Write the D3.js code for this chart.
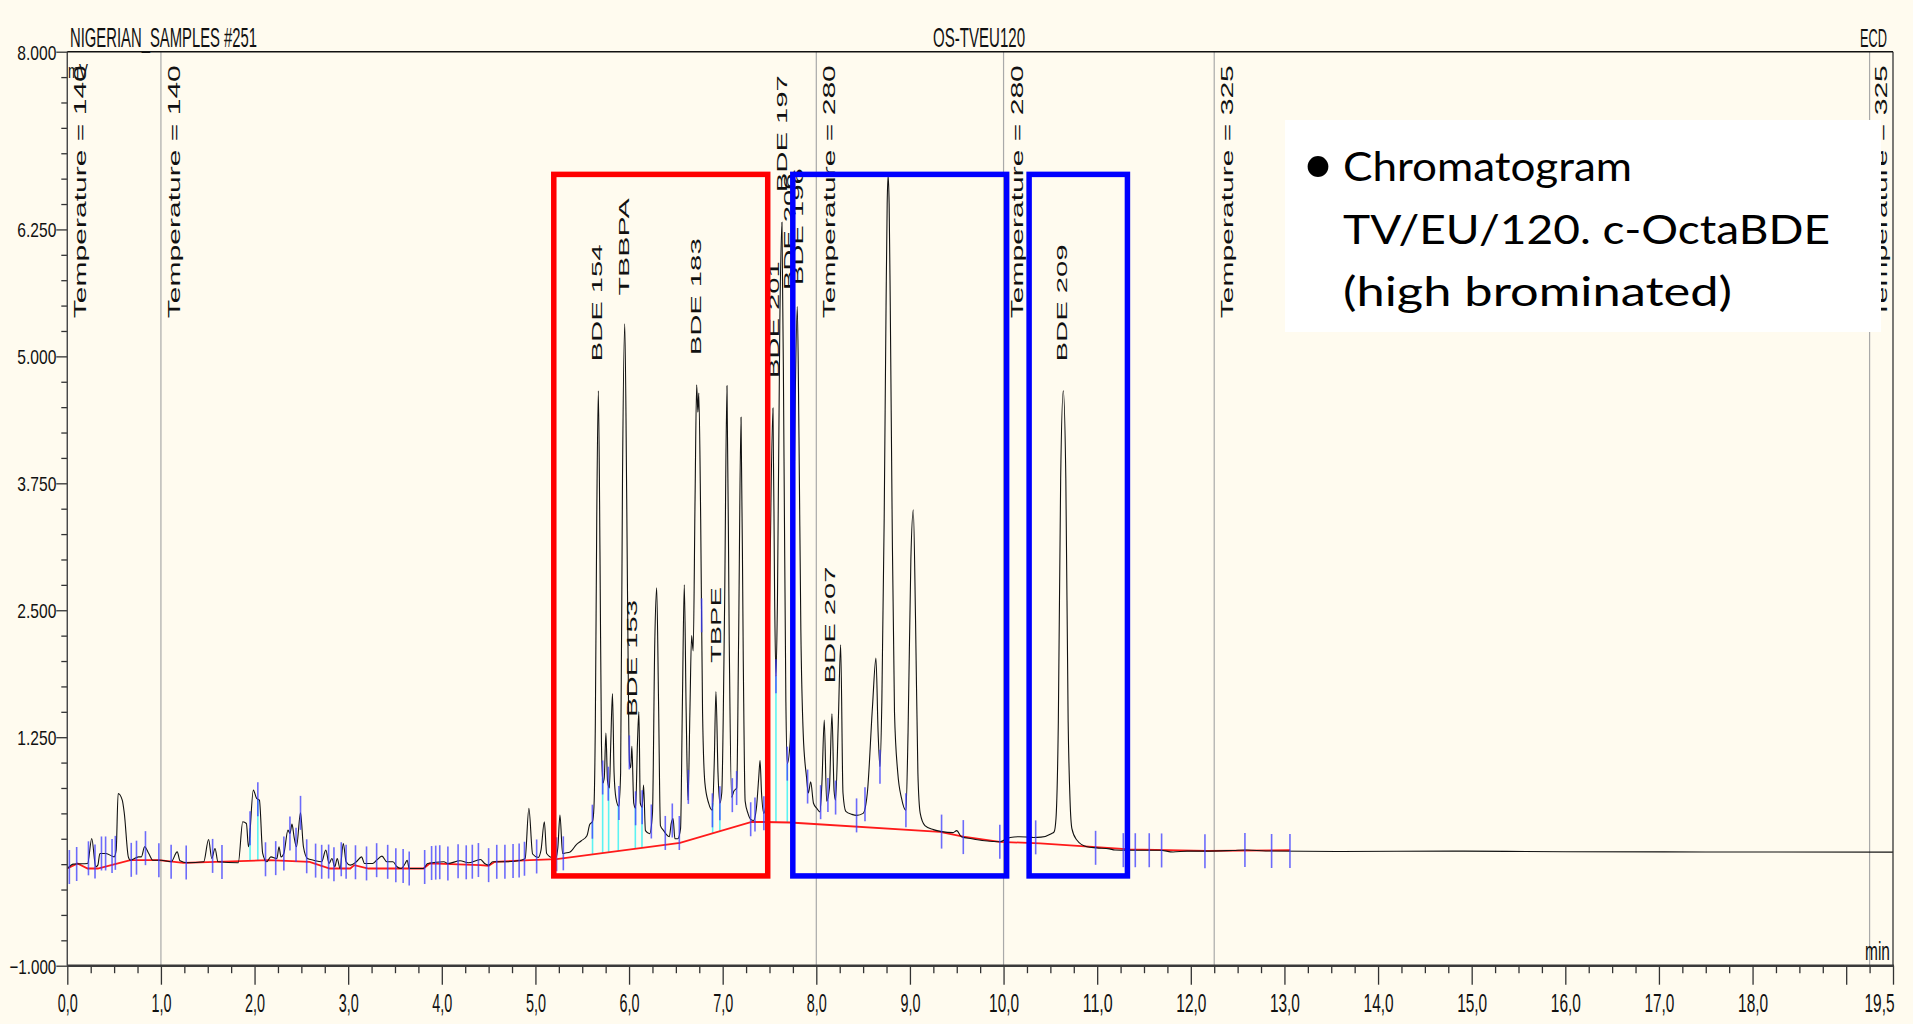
<!DOCTYPE html>
<html><head><meta charset="utf-8">
<script src="https://cdn.jsdelivr.net/npm/d3@7"></script>
<style>
html,body{margin:0;padding:0;background:#fffbef;}
svg{display:block;}
</style></head><body>
<svg id="c" width="1913" height="1024"></svg>
<script>
// ---------------- DATA ----------------
const trace = [
[0.000,-0.043],[0.065,0.0],[0.217,0.007],[0.261,0.253],[0.304,-0.026],[0.326,-0.01],[0.348,0.105],[0.413,0.105],[0.5,0.072],[0.522,0.138],[0.543,0.696],[0.587,0.63],[0.609,0.499],[0.652,0.072],[0.674,0.039],[0.761,0.072],[0.791,0.072],[0.826,0.171],[0.87,0.105],[0.913,0.039],[1.0,0.039],[1.109,0.023],[1.174,0.121],[1.204,0.033],[1.283,0.013],[1.457,0.023],[1.509,0.243],[1.543,0.056],[1.578,0.154],[1.609,0.023],[1.826,0.013],[1.874,0.417],[1.913,0.4],[1.935,0.171],[1.987,0.729],[2.022,0.647],[2.052,0.63],[2.087,0.105],[2.13,0.023],[2.174,0.072],[2.239,0.056],[2.261,0.171],[2.283,0.072],[2.313,0.105],[2.357,0.335],[2.378,0.302],[2.4,0.394],[2.422,0.269],[2.448,0.171],[2.491,0.505],[2.522,0.171],[2.565,0.056],[2.63,0.039],[2.717,0.023],[2.761,0.138],[2.796,0.007],[2.826,0.056],[2.857,-0.026],[2.883,0.056],[2.913,-0.043],[2.948,0.203],[2.978,0.023],[3.022,-0.01],[3.087,0.023],[3.143,0.072],[3.174,0.007],[3.261,0.007],[3.304,0.039],[3.361,0.079],[3.413,0.023],[3.478,0.023],[3.522,-0.026],[3.565,-0.043],[3.609,0.007],[3.63,0.039],[3.652,-0.043],[3.804,-0.043],[3.848,0.007],[4.022,0.023],[4.065,0.007],[4.196,0.033],[4.283,0.013],[4.413,0.046],[4.457,0.007],[4.5,-0.01],[4.543,0.023],[4.674,0.023],[4.848,0.039],[4.89,0.056],
[4.93,0.55],[4.97,0.10],[5.03,0.066],[5.06,0.14],[5.095,0.417],[5.12,0.105],[5.18,0.066],[5.22,0.066],[5.24,0.17],[5.262,0.483],[5.29,0.105],[5.32,0.11],[5.37,0.12],[5.44,0.195],[5.49,0.23],[5.55,0.28],[5.58,0.39],[5.61,0.42],[5.625,0.56],[5.64,1.4],[5.655,3.4],[5.672,4.66],[5.69,3.0],[5.705,1.2],[5.72,0.80],[5.735,0.85],[5.753,1.29],[5.77,0.82],[5.79,0.75],[5.805,1.2],[5.823,1.68],[5.84,0.9],[5.86,0.65],[5.89,0.57],[5.91,0.9],[5.93,3.8],[5.954,5.32],[5.975,3.6],[5.995,1.5],[6.005,1.0],[6.018,0.95],[6.03,1.16],[6.05,0.6],[6.07,0.55],[6.09,1.2],[6.105,1.5],[6.12,0.6],[6.14,0.56],[6.155,0.78],[6.175,0.33],[6.22,0.30],[6.25,0.5],[6.275,2.2],[6.295,2.72],[6.315,1.6],[6.335,0.38],[6.37,0.33],[6.4,0.29],[6.43,0.27],[6.45,0.40],[6.47,0.45],[6.49,0.25],[6.52,0.25],[6.55,0.35],[6.57,1.6],[6.59,2.75],[6.61,1.5],[6.63,0.63],[6.65,1.5],[6.668,2.25],[6.685,2.1],[6.705,3.6],[6.722,4.72],[6.735,4.45],[6.745,4.64],[6.765,3.4],[6.785,1.5],[6.81,0.8],[6.85,0.6],[6.89,0.53],[6.91,1.0],[6.928,1.70],[6.95,0.9],[6.97,0.6],[6.99,0.7],[7.02,2.5],[7.046,4.71],[7.07,2.2],[7.095,0.66],[7.12,0.72],[7.15,0.75],[7.17,2.2],[7.196,4.40],[7.22,2.0],[7.24,0.62],[7.27,0.50],[7.3,0.44],[7.33,0.43],[7.36,0.55],[7.385,0.85],[7.399,1.02],[7.415,0.70],[7.44,0.50],[7.47,0.7],[7.50,2.5],[7.537,4.49],[7.555,2.6],[7.569,1.85],[7.585,2.6],[7.61,5.3],[7.633,6.32],[7.655,4.0],[7.675,1.6],[7.69,0.99],[7.72,1.2],[7.75,2.6],[7.775,4.6],[7.797,5.49],[7.815,4.2],[7.835,2.3],[7.86,1.29],[7.895,0.86],[7.915,0.70],[7.94,0.81],[7.97,0.60],[8.005,0.55],[8.039,0.515],[8.06,0.8],[8.085,1.42],[8.11,0.62],[8.14,0.75],[8.167,1.48],[8.19,0.72],[8.205,0.63],[8.235,1.4],[8.26,2.16],[8.285,0.7],[8.315,0.52],[8.38,0.49],[8.43,0.48],[8.50,0.50],[8.545,0.70],[8.60,1.55],[8.637,2.03],[8.66,1.3],[8.68,0.96],[8.70,1.6],[8.725,3.4],[8.745,5.5],[8.757,6.5],[8.767,6.78],[8.778,6.5],[8.79,5.5],[8.81,3.4],[8.835,1.5],[8.87,0.9],[8.91,0.65],[8.957,0.53],[8.98,1.3],[9.01,3.0],[9.036,3.49],[9.06,2.4],[9.085,0.9],[9.11,0.5],[9.16,0.38],[9.25,0.34],[9.34,0.32],[9.46,0.31],[9.50,0.33],[9.55,0.27],[9.66,0.25],[9.80,0.23],[9.96,0.22],[10.07,0.263],[10.17,0.27],[10.24,0.268],[10.32,0.263],[10.40,0.266],[10.51,0.30],[10.54,0.318],[10.56,0.45],[10.585,1.4],[10.61,3.8],[10.638,4.66],[10.665,3.8],[10.69,1.4],[10.71,0.63],[10.73,0.35],[10.78,0.24],[10.89,0.171],[10.99,0.16],[11.13,0.15],[11.19,0.14],[11.31,0.137],[11.42,0.137],[11.67,0.137],[11.81,0.12],[11.96,0.128],[12.17,0.128],[12.45,0.135],[12.6,0.14],[12.8,0.13],[13.6,0.125],[14.8,0.128],[16.0,0.122],[17.5,0.12],[19.5,0.118]
];
const baselineTimes  = [0.0,0.109,0.217,0.326,0.674,0.978,1.239,2.152,2.587,2.804,3.022,3.065,3.217,3.804,3.87,4.413,4.5,4.565,4.942,5.227,6.544,7.309,7.434,7.72,9.32,9.57,9.96,10.39,11.35,12.17,13.06];
const baselineValues = [-0.043,0.007,-0.043,-0.043,0.039,0.039,0.013,0.039,0.023,-0.043,-0.043,-0.01,-0.043,-0.043,0.007,-0.01,-0.016,0.023,0.04,0.05,0.21,0.417,0.415,0.41,0.318,0.27,0.22,0.204,0.145,0.13,0.137];
const markerTimes = [0.022,0.1,0.226,0.296,0.365,0.409,0.478,0.513,0.683,0.739,0.835,0.978,1.109,1.27,1.552,1.652,1.952,2.035,2.117,2.226,2.313,2.378,2.443,2.491,2.557,2.652,2.717,2.791,2.848,2.926,2.978,3.078,3.196,3.304,3.422,3.509,3.587,3.652,3.817,3.891,3.935,3.978,4.065,4.174,4.261,4.326,4.391,4.5,4.587,4.674,4.761,4.826,4.883,5.013,5.226,5.298,5.608,5.718,5.778,5.892,6.003,6.07,6.14,6.238,6.387,6.462,6.537,6.633,6.775,6.89,6.97,7.103,7.149,7.299,7.345,7.44,7.569,7.69,7.907,8.046,8.124,8.206,8.43,8.52,8.68,8.957,9.338,9.57,9.96,10.343,10.983,11.279,11.407,11.556,11.688,12.151,12.578,12.863,13.059];
const dropTimes = [1.952,2.035,5.61,5.718,5.782,5.885,6.067,6.138,6.893,6.97,7.569,7.69];
const tempTimes  = [0, 1, 8, 10, 12.25, 19.25];
const tempLabels = ["Temperature = 140","Temperature = 140","Temperature = 280","Temperature = 280","Temperature = 325","Temperature = 325"];
const tempLabelLevel = 5.376;
const peakNames  = ["BDE 154","TBBPA","BDE 183","BDE 201","BDE 197","BDE 206","BDE 196","BDE 153","TBPE","BDE 207","BDE 209"];
const peakTimes  = [5.654,5.938,6.715,7.548,7.630,7.708,7.804,6.028,6.925,8.146,10.62];
const peakLevels = [4.95,5.60,5.01,4.785,6.617,5.65,5.70,1.45,1.98,1.78,4.95];
const boxStarts  = [5.196,7.749,10.273];
const boxEnds    = [7.481,10.033,11.323];
const boxTop = 6.792, boxBottom = -0.116;
const yTickLabels = [8,6.25,5,3.75,2.5,1.25,-1];
const xTickLabels = [0,1,2,3,4,5,6,7,8,9,10,11,12,13,14,15,16,17,18,19.5];
const noteLines = ["Chromatogram","TV/EU/120. c-OctaBDE","(high brominated)"];

// ---------------- DRAW ----------------
const svg = d3.select("#c");
const x = d3.scaleLinear().domain([0,19.5]).range([67.3,1893]);
const y = d3.scaleLinear().domain([-1,8]).range([965.7,51.7]);
const NARROW = "'Liberation Sans Narrow','Liberation Sans',Arial,sans-serif";
const SANS = "'Liberation Sans',Arial,sans-serif";

svg.append("rect").attr("width",1913).attr("height",1024).attr("fill","#fffbef");

// temperature event lines
svg.append("g").selectAll("line").data(tempTimes).join("line")
  .attr("x1",d=>x(d)).attr("x2",d=>x(d)).attr("y1",y(8)).attr("y2",y(-1))
  .attr("stroke","#a9a9a9").attr("stroke-width",1.2);
svg.append("g").selectAll("text").data(tempTimes).join("text")
  .attr("transform",(d,i)=>`translate(${x(d)+(i===5?17:19)},${y(tempLabelLevel)}) rotate(-90)`)
  .attr("font-family",SANS).attr("font-size",15.8).attr("fill","#111")
  .attr("textLength",253).attr("lengthAdjust","spacingAndGlyphs")
  .text((d,i)=>tempLabels[i]);

// integration baseline
const bl = baselineTimes.map((t,i)=>[t,baselineValues[i]]);
const interp = (arr,t)=>{
  const i = d3.bisector(d=>d[0]).left(arr,t);
  if(i<=0) return arr[0][1];
  if(i>=arr.length) return arr[arr.length-1][1];
  const a=arr[i-1], b=arr[i]; const f=(t-a[0])/(b[0]-a[0]);
  return a[1]+f*(b[1]-a[1]);
};
// cyan drop lines
svg.append("g").selectAll("line").data(dropTimes).join("line")
  .attr("x1",d=>x(d)).attr("x2",d=>x(d))
  .attr("y1",d=>y(interp(trace,d))).attr("y2",d=>y(interp(bl,d)))
  .attr("stroke","#5cf3f3").attr("stroke-width",1.6);

svg.append("path").datum(bl)
  .attr("d",d3.line().x(d=>x(d[0])).y(d=>y(d[1])))
  .attr("fill","none").attr("stroke","#ff1a1a").attr("stroke-width",1.8);

// trace
svg.append("path").datum(trace)
  .attr("d",d3.line().x(d=>x(d[0])).y(d=>y(d[1])).curve(d3.curveMonotoneX))
  .attr("fill","none").attr("stroke","#111").attr("stroke-width",1.1);

// peak delimiters
svg.append("g").selectAll("line").data(markerTimes).join("line")
  .attr("x1",d=>x(d)).attr("x2",d=>x(d))
  .attr("y1",d=>y(interp(trace,d))-17).attr("y2",d=>y(interp(trace,d))+17)
  .attr("stroke","#3b3bff").attr("stroke-opacity",0.75).attr("stroke-width",1.6);

// peak labels
svg.append("g").selectAll("text").data(peakNames).join("text")
  .attr("transform",(d,i)=>`translate(${x(peakTimes[i])+5.5},${y(peakLevels[i])}) rotate(-90)`)
  .attr("font-family",SANS).attr("font-size",15.5).attr("fill","#111")
  .attr("textLength",d=>d.length===7?117:(d.length===5?97:76)).attr("lengthAdjust","spacingAndGlyphs")
  .text(d=>d);

// highlight boxes
const boxColors = ["#ff0000","#0000ff","#0000ff"];
svg.append("g").selectAll("rect").data(boxStarts).join("rect")
  .attr("x",(d)=>x(d)).attr("y",y(boxTop))
  .attr("width",(d,i)=>x(boxEnds[i])-x(d)).attr("height",y(boxBottom)-y(boxTop))
  .attr("fill","none").attr("stroke",(d,i)=>boxColors[i]).attr("stroke-width",5.5);

// axes
const xMinor = d3.range(0,19.5001,0.25).filter(v=>Math.abs(v-Math.round(v))>1e-6 && Math.abs(v-19.5)>1e-6);
const xMajor = d3.range(0,20).concat([19.5]);
const gxm = svg.append("g").attr("transform",`translate(0,${y(-1)})`)
  .call(d3.axisBottom(x).tickValues(xMinor).tickSize(7.5).tickSizeOuter(0).tickFormat(""));
gxm.select(".domain").remove();
const gx = svg.append("g").attr("transform",`translate(0,${y(-1)})`)
  .call(d3.axisBottom(x).tickValues(xMajor).tickSize(19).tickSizeOuter(0)
    .tickFormat(d=> xTickLabels.includes(d) ? d3.format(".1f")(d).replace(".",",") : ""));
gx.select(".domain").remove();
gx.selectAll("text").attr("y",46.5).attr("dy",0)
  .attr("font-family",NARROW).attr("font-size",26.5).attr("fill","#111")
  .each(function(d){const s=this.textContent; if(s){ const t=d3.select(this).attr("textLength",10*(s.length-1)).attr("lengthAdjust","spacingAndGlyphs");
     if(d===19.5) t.attr("text-anchor","end").attr("x",1);} });
svg.selectAll(".tick line").attr("stroke","#333").attr("stroke-width",1.3);

const yMinor = d3.range(-1,8.0001,0.25).filter(v=>!yTickLabels.some(l=>Math.abs(l-v)<1e-6));
const gym = svg.append("g").attr("transform",`translate(${x(0)},0)`)
  .call(d3.axisLeft(y).tickValues(yMinor).tickSize(6).tickSizeOuter(0).tickFormat(""));
gym.select(".domain").remove();
const gy = svg.append("g").attr("transform",`translate(${x(0)},0)`)
  .call(d3.axisLeft(y).tickValues(yTickLabels).tickSize(11).tickSizeOuter(0).tickFormat(d3.format(".3f")));
gy.select(".domain").remove();
gy.selectAll("text").attr("x",-11).attr("dy","0.36em")
  .attr("font-family",NARROW).attr("font-size",21).attr("fill","#111")
  .each(function(){const s=this.textContent; d3.select(this).attr("textLength",7.8*s.length).attr("lengthAdjust","spacingAndGlyphs");});
svg.selectAll(".tick line").attr("stroke","#333").attr("stroke-width",1.3);

// frame lines
svg.append("line").attr("x1",x(0)).attr("x2",x(0)).attr("y1",y(8)).attr("y2",y(-1)).attr("stroke","#444").attr("stroke-width",1.3);
svg.append("line").attr("x1",x(19.5)).attr("x2",x(19.5)).attr("y1",y(8)).attr("y2",y(-1)).attr("stroke","#333").attr("stroke-width",1.3);
svg.append("line").attr("x1",x(0)).attr("x2",x(19.5)).attr("y1",y(8)).attr("y2",y(8)).attr("stroke","#111").attr("stroke-width",1.6);
svg.append("line").attr("x1",x(0)).attr("x2",x(19.5)+1).attr("y1",y(-1)).attr("y2",y(-1)).attr("stroke","#3a3a3a").attr("stroke-width",2.6);

// header texts
const hdr = (txt,xx,yy,fs,len,anchor)=>svg.append("text").attr("x",xx).attr("y",yy)
  .attr("font-family",NARROW).attr("font-size",fs).attr("fill","#111").attr("text-anchor",anchor||"start")
  .attr("textLength",len).attr("lengthAdjust","spacingAndGlyphs").text(txt);
hdr("NIGERIAN_SAMPLES #251",70,47,27,187);
hdr("OS-TVEU120",979,46.7,28,92,"middle");
hdr("ECD",1887,46.7,25,27,"end");
hdr("mV",68,78.3,21,20);
hdr("min",1890,960,25,25,"end");

// note box
svg.append("rect").attr("x",1285).attr("y",120).attr("width",596).attr("height",212).attr("fill","#ffffff");
const LATO = "Lato,'Open Sans',sans-serif";
svg.append("text").attr("x",1318).attr("y",183).attr("text-anchor","middle")
  .attr("font-family",LATO).attr("font-size",56).attr("fill","#000").text("•");
const noteLens=[289,487,389];
svg.append("g").selectAll("text").data(noteLines).join("text")
  .attr("x",1343).attr("y",(d,i)=>181+i*62.5)
  .attr("font-family",LATO).attr("font-size",40).attr("fill","#000")
  .attr("textLength",(d,i)=>noteLens[i]).attr("lengthAdjust","spacingAndGlyphs")
  .text(d=>d);
</script>
</body></html>
